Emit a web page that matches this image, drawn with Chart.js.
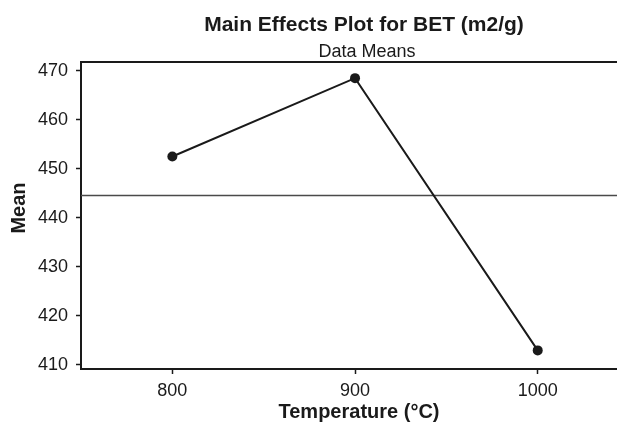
<!DOCTYPE html>
<html>
<head>
<meta charset="utf-8">
<title>Main Effects Plot for BET</title>
<script src="https://cdn.jsdelivr.net/npm/chart.js@4.4.1/dist/chart.umd.min.js"></script>
<style>
  html, body { margin: 0; padding: 0; background: #fff; }
  canvas { display: block; }
</style>
</head>
<body>
<canvas id="effects-chart" width="617" height="427"></canvas>
<script>
// factor levels and the mean response at each level
const temperatures = [800, 900, 1000];
const meanBET = [452.5, 468.5, 412.9];
const yTickValues = [410, 420, 430, 440, 450, 460, 470];

const chartTitle = 'Main Effects Plot for BET (m2/g)';
const chartSubtitle = 'Data Means';
const xTitle = 'Temperature (°C)';
const yTitle = 'Mean';

// overall mean, drawn as the horizontal reference line
const grandMean = meanBET.reduce((a, b) => a + b, 0) / meanBET.length;

const FONT = '"Liberation Sans", Arial, Helvetica, sans-serif';
const INK = '#1a1a1a';

const labelsPlugin = {
    id: 'effectsLabels',
    beforeDatasetsDraw(chart) {
        const { ctx, chartArea, scales } = chart;
        const y = Math.round(scales.y.getPixelForValue(grandMean)) + 0.5;
        ctx.save();
        ctx.strokeStyle = '#4a4a4a';
        ctx.lineWidth = 1.5;
        ctx.beginPath();
        ctx.moveTo(chartArea.left, y);
        ctx.lineTo(chartArea.right, y);
        ctx.stroke();
        ctx.restore();
    },
    afterDraw(chart) {
        const { ctx } = chart;
        ctx.save();
        ctx.fillStyle = INK;
        ctx.textAlign = 'center';
        ctx.textBaseline = 'alphabetic';

        ctx.font = 'bold 21px ' + FONT;
        ctx.fillText(chartTitle, 364, 31);
        ctx.font = '18px ' + FONT;
        ctx.fillText(chartSubtitle, 367, 57);

        ctx.font = 'bold 20px ' + FONT;
        ctx.fillText(xTitle, 359, 418);

        ctx.translate(19, 208);
        ctx.rotate(-Math.PI / 2);
        ctx.textBaseline = 'middle';
        ctx.fillText(yTitle, 0, 0);
        ctx.restore();
    }
};

const noEdgePadding = s => { s.paddingLeft = 0; s.paddingRight = 0; };

const ctx = document.getElementById('effects-chart').getContext('2d');
new Chart(ctx, {
    type: 'line',
    data: {
        datasets: [{
            data: temperatures.map((t, i) => ({ x: t, y: meanBET[i] })),
            borderColor: INK,
            backgroundColor: INK,
            borderWidth: 2,
            pointRadius: 5,
            pointBackgroundColor: INK,
            pointBorderWidth: 0,
            tension: 0
        }]
    },
    options: {
        responsive: false,
        animation: false,
        layout: { autoPadding: false, padding: { top: 62, left: 0, right: 0, bottom: 0 } },
        plugins: {
            legend: { display: false },
            tooltip: { enabled: false }
        },
        scales: {
            x: {
                type: 'linear',
                position: 'bottom',
                min: 750,
                max: 1043.4,
                afterBuildTicks: s => { s.ticks = temperatures.map(v => ({ value: v })); },
                afterFit: s => { s.height = 58; noEdgePadding(s); },
                grid: { drawOnChartArea: false, tickLength: 5, tickColor: INK, tickWidth: 1.5 },
                border: { color: INK, width: 2 },
                ticks: {
                    color: INK,
                    font: { family: FONT, size: 18 },
                    padding: 6,
                    callback: v => String(v)
                }
            },
            top: {
                type: 'linear',
                position: 'top',
                min: 750,
                max: 1043.4,
                afterFit: s => { s.height = 0; noEdgePadding(s); },
                grid: { display: false },
                border: { color: INK, width: 2 },
                ticks: { display: false }
            },
            y: {
                min: 409.1,
                max: 471.8,
                afterBuildTicks: s => { s.ticks = yTickValues.map(v => ({ value: v })); },
                afterFit: s => { s.width = 81; },
                grid: { drawOnChartArea: false, tickLength: 5, tickColor: INK, tickWidth: 1.5 },
                border: { color: INK, width: 2 },
                ticks: { color: INK, font: { family: FONT, size: 18 }, padding: 8 }
            }
        }
    },
    plugins: [labelsPlugin]
});
</script>
</body>
</html>
